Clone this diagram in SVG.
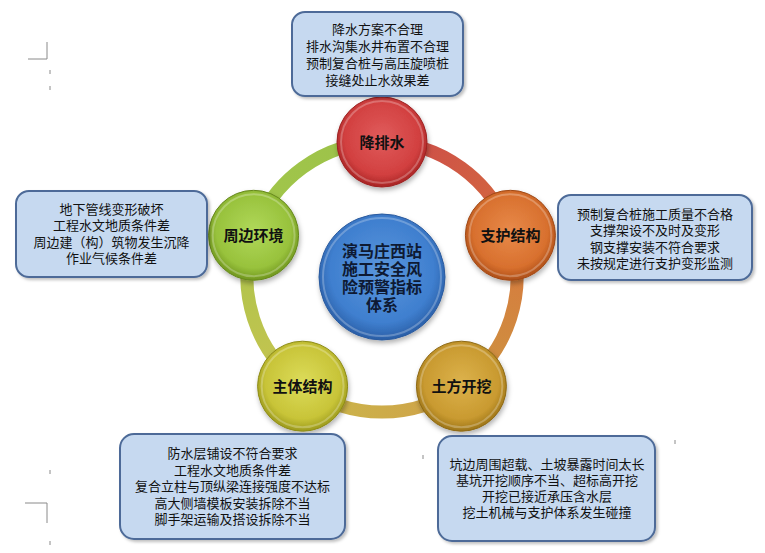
<svg xmlns="http://www.w3.org/2000/svg" width="765" height="553" viewBox="0 0 765 553">
<style>
.box{fill:#c6d9f0;stroke:#4d6b98;stroke-width:2;filter:url(#sh)}
.bt{font-family:"Liberation Sans","Noto Sans CJK SC",sans-serif;font-size:13px;fill:#111;text-anchor:middle;dominant-baseline:central}
.nt{font-family:"Liberation Sans","Noto Sans CJK SC",sans-serif;font-size:15px;font-weight:bold;fill:#111;text-anchor:middle;dominant-baseline:central}
.ct{font-family:"Liberation Sans","Noto Sans CJK SC",sans-serif;font-size:16px;font-weight:bold;fill:#0e1a33;text-anchor:middle;dominant-baseline:central}
.ring{fill:none;stroke-width:13;stroke-linecap:butt}
.mark{stroke:#8a8a8a;stroke-width:1;fill:none}
.rim{fill:none;stroke:#ffffff;stroke-opacity:0.25;stroke-width:2}
</style>
<defs>
<filter id="sh" x="-10%" y="-10%" width="125%" height="130%">
<feDropShadow dx="2" dy="2" stdDeviation="1.5" flood-color="#000" flood-opacity="0.25"/>
</filter>
<filter id="csh" x="-20%" y="-20%" width="140%" height="150%">
<feDropShadow dx="1" dy="3" stdDeviation="2.5" flood-color="#000" flood-opacity="0.3"/>
</filter>
<radialGradient id="gRed" cx="50%" cy="45%" r="55%">
<stop offset="0" stop-color="#e05c5c"/><stop offset="0.75" stop-color="#d24040"/><stop offset="1" stop-color="#a82424"/>
</radialGradient>
<radialGradient id="gOrg" cx="50%" cy="45%" r="55%">
<stop offset="0" stop-color="#e88a4a"/><stop offset="0.75" stop-color="#d8702e"/><stop offset="1" stop-color="#ad4e18"/>
</radialGradient>
<radialGradient id="gGold" cx="50%" cy="45%" r="55%">
<stop offset="0" stop-color="#dcb24c"/><stop offset="0.75" stop-color="#c99a30"/><stop offset="1" stop-color="#9c7418"/>
</radialGradient>
<radialGradient id="gYel" cx="50%" cy="45%" r="55%">
<stop offset="0" stop-color="#dcdc5a"/><stop offset="0.75" stop-color="#c8c438"/><stop offset="1" stop-color="#9c9a1c"/>
</radialGradient>
<radialGradient id="gGrn" cx="50%" cy="45%" r="55%">
<stop offset="0" stop-color="#b0d85a"/><stop offset="0.75" stop-color="#98c23c"/><stop offset="1" stop-color="#70961e"/>
</radialGradient>
<radialGradient id="gBlue" cx="50%" cy="45%" r="55%">
<stop offset="0" stop-color="#5a96dc"/><stop offset="0.75" stop-color="#3f7fcf"/><stop offset="1" stop-color="#2a5ea6"/>
</radialGradient>
<linearGradient id="r1" gradientUnits="userSpaceOnUse" x1="382" y1="142" x2="510" y2="235">
<stop offset="0" stop-color="#cc4a4a"/><stop offset="1" stop-color="#d46a3e"/>
</linearGradient>
<linearGradient id="r2" gradientUnits="userSpaceOnUse" x1="510" y1="235" x2="461" y2="386">
<stop offset="0" stop-color="#d8783e"/><stop offset="1" stop-color="#cc9440"/>
</linearGradient>
<linearGradient id="r3" gradientUnits="userSpaceOnUse" x1="461" y1="386" x2="303" y2="386">
<stop offset="0" stop-color="#d0a048"/><stop offset="1" stop-color="#cab84c"/>
</linearGradient>
<linearGradient id="r4" gradientUnits="userSpaceOnUse" x1="303" y1="386" x2="254" y2="235">
<stop offset="0" stop-color="#c8c450"/><stop offset="1" stop-color="#acc44c"/>
</linearGradient>
<linearGradient id="r5" gradientUnits="userSpaceOnUse" x1="254" y1="235" x2="382" y2="142">
<stop offset="0" stop-color="#a2c64a"/><stop offset="1" stop-color="#9cc24a"/>
</linearGradient>
</defs>
<rect width="765" height="553" fill="#ffffff"/>

<g id="marks">
<polyline class="mark" points="28,59 47,59 47,42"/>
<polyline class="mark" points="25,503 47,503 47,523"/>
<line class="mark" x1="50" y1="70" x2="50" y2="74"/>
<line class="mark" x1="50" y1="86" x2="50" y2="90"/>
<line class="mark" x1="50" y1="470" x2="50" y2="474"/>
<line class="mark" x1="50" y1="541" x2="50" y2="545"/>
<line class="mark" x1="423" y1="455" x2="423" y2="459"/>
<line class="mark" x1="675" y1="440" x2="675" y2="444"/>
</g>

<g id="connectors">
<path class="ring" stroke="url(#r1)" d="M382,142 A135,135 0 0 1 510.4,235.3"/>
<path class="ring" stroke="url(#r2)" d="M510.4,235.3 A135,135 0 0 1 461.4,386.2"/>
<path class="ring" stroke="url(#r3)" d="M461.4,386.2 A135,135 0 0 1 302.6,386.2"/>
<path class="ring" stroke="url(#r4)" d="M302.6,386.2 A135,135 0 0 1 253.6,235.3"/>
<path class="ring" stroke="url(#r5)" d="M253.6,235.3 A135,135 0 0 1 382,142"/>
</g>

<g id="center">
<circle cx="382" cy="277" r="63" fill="url(#gBlue)" stroke="#2a5a9e" stroke-width="1" filter="url(#csh)"/>
<circle class="rim" cx="382" cy="277" r="59"/>
<text class="ct" x="382" y="251">演马庄西站</text>
<text class="ct" x="382" y="269">施工安全风</text>
<text class="ct" x="382" y="287">险预警指标</text>
<text class="ct" x="382" y="305">体系</text>
</g>

<g id="node-jiangpaishui">
<circle cx="382" cy="142" r="45" fill="url(#gRed)" stroke="#9c2020" stroke-width="1" filter="url(#csh)"/>
<circle class="rim" cx="382" cy="142" r="41"/>
<text class="nt" x="382" y="142">降排水</text>
</g>

<g id="node-zhihu">
<circle cx="510.4" cy="235.3" r="45" fill="url(#gOrg)" stroke="#a04a18" stroke-width="1" filter="url(#csh)"/>
<circle class="rim" cx="510.4" cy="235.3" r="41"/>
<text class="nt" x="510.4" y="235.3">支护结构</text>
</g>

<g id="node-tufang">
<circle cx="461.4" cy="386.2" r="45" fill="url(#gGold)" stroke="#8e6a16" stroke-width="1" filter="url(#csh)"/>
<circle class="rim" cx="461.4" cy="386.2" r="41"/>
<text class="nt" x="461.4" y="386.2">土方开挖</text>
</g>

<g id="node-zhuti">
<circle cx="302.6" cy="386.2" r="45" fill="url(#gYel)" stroke="#8e8c18" stroke-width="1" filter="url(#csh)"/>
<circle class="rim" cx="302.6" cy="386.2" r="41"/>
<text class="nt" x="302.6" y="386.2">主体结构</text>
</g>

<g id="node-zhoubian">
<circle cx="253.6" cy="235.3" r="45" fill="url(#gGrn)" stroke="#66881c" stroke-width="1" filter="url(#csh)"/>
<circle class="rim" cx="253.6" cy="235.3" r="41"/>
<text class="nt" x="253.6" y="235.3">周边环境</text>
</g>

<g id="box-top">
<rect class="box" x="292" y="12" width="171" height="84" rx="13"/>
<text class="bt" x="377.5" y="29">降水方案不合理</text>
<text class="bt" x="377.5" y="46">排水沟集水井布置不合理</text>
<text class="bt" x="377.5" y="63">预制复合桩与高压旋喷桩</text>
<text class="bt" x="377.5" y="80">接缝处止水效果差</text>
</g>

<g id="box-left">
<rect class="box" x="16" y="191" width="191" height="86" rx="13"/>
<text class="bt" x="111.5" y="209">地下管线变形破坏</text>
<text class="bt" x="111.5" y="225.5">工程水文地质条件差</text>
<text class="bt" x="111.5" y="242">周边建（构）筑物发生沉降</text>
<text class="bt" x="111.5" y="258.5">作业气候条件差</text>
</g>

<g id="box-right">
<rect class="box" x="558" y="195" width="194" height="85" rx="13"/>
<text class="bt" x="655" y="214">预制复合桩施工质量不合格</text>
<text class="bt" x="655" y="230.5">支撑架设不及时及变形</text>
<text class="bt" x="655" y="247">钢支撑安装不符合要求</text>
<text class="bt" x="655" y="263.5">未按规定进行支护变形监测</text>
</g>

<g id="box-bottom-left">
<rect class="box" x="120" y="434" width="225" height="105" rx="14"/>
<text class="bt" x="232.5" y="453.5">防水层铺设不符合要求</text>
<text class="bt" x="232.5" y="470">工程水文地质条件差</text>
<text class="bt" x="232.5" y="486.5">复合立柱与顶纵梁连接强度不达标</text>
<text class="bt" x="232.5" y="503">高大侧墙模板安装拆除不当</text>
<text class="bt" x="232.5" y="519.5">脚手架运输及搭设拆除不当</text>
</g>

<g id="box-bottom-right">
<rect class="box" x="438" y="436" width="217" height="105" rx="14"/>
<text class="bt" x="547" y="464">坑边周围超载、土坡暴露时间太长</text>
<text class="bt" x="547" y="480">基坑开挖顺序不当、超标高开挖</text>
<text class="bt" x="547" y="496">开挖已接近承压含水层</text>
<text class="bt" x="547" y="512">挖土机械与支护体系发生碰撞</text>
</g>
</svg>
